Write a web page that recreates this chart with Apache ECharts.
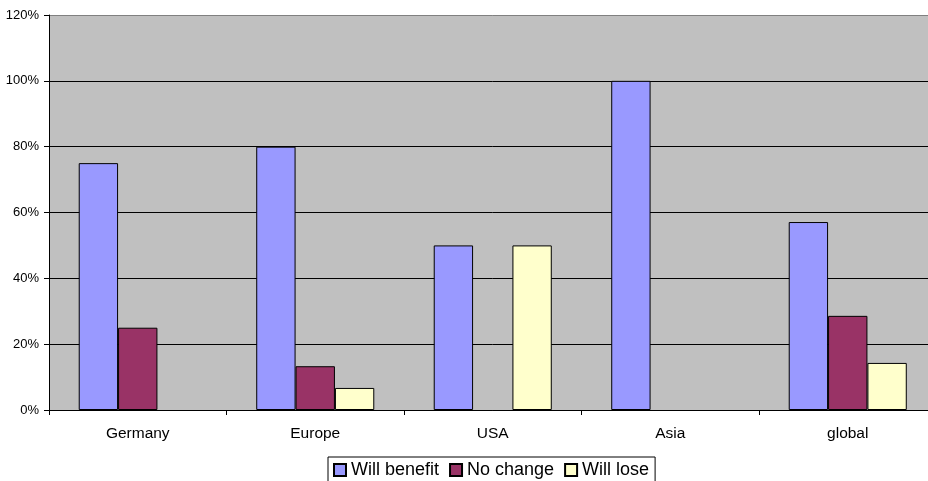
<!DOCTYPE html>
<html>
<head>
<meta charset="utf-8">
<script src="https://cdn.jsdelivr.net/npm/echarts@6/dist/echarts.min.js"></script>
<style>
html,body{margin:0;padding:0;background:#fff;overflow:hidden;width:928px;height:481px;}
#chart{width:937px;height:481px;}
</style>
</head>
<body>
<div id="chart"></div>
<script>
var categories = ['Germany', 'Europe', 'USA', 'Asia', 'global'];
var willBenefit = [75, 80, 50, 100, 57.1];
var noChange = [25, 13.3, 0, 0, 28.6];
var willLose = [0, 6.7, 50, 0, 14.3];
var seriesNames = ['Will benefit', 'No change', 'Will lose'];
var yTicks = [0, 20, 40, 60, 80, 100, 120];

var colors = ['#9999FF', '#993366', '#FFFFCC'];
var font = 'Arial, "Liberation Sans", sans-serif';
var chart = echarts.init(document.getElementById('chart'));
var datas = [willBenefit, noChange, willLose];
chart.setOption({
  animation: false,
  grid: {
    left: 49, top: 15, right: 0.5, bottom: 71,
    show: true, backgroundColor: '#C0C0C0', borderWidth: 0
  },
  legend: {
    left: 328, top: 457,
    padding: [4, 6, 10, 5],
    itemGap: 10,
    itemWidth: 12, itemHeight: 12,
    icon: 'rect',
    backgroundColor: '#fff',
    borderColor: '#000', borderWidth: 1, borderRadius: 0,
    textStyle: { fontFamily: font, fontSize: 18, color: '#000' },
    data: seriesNames
  },
  xAxis: {
    type: 'category',
    data: categories,
    axisLine: { lineStyle: { color: '#000', width: 1 } },
    axisTick: { show: true, length: 5, lineStyle: { color: '#000' } },
    axisLabel: { fontFamily: font, fontSize: 15.5, color: '#000', margin: 16 }
  },
  yAxis: {
    type: 'value',
    min: 0, max: 120, interval: 20,
    axisLine: { show: true, lineStyle: { color: '#000', width: 1 } },
    axisTick: { show: true, length: 5, lineStyle: { color: '#000' } },
    axisLabel: {
      fontFamily: font, fontSize: 13, color: '#000', margin: 10,
      formatter: function (v) { return yTicks.indexOf(v) >= 0 ? v + '%' : ''; }
    },
    splitLine: { show: true, lineStyle: { color: ['#000', '#000', '#000', '#000', '#000', '#000', '#808080'], width: 1 } }
  },
  series: seriesNames.map(function (n, i) {
    return {
      name: n,
      type: 'bar',
      data: datas[i].map(function (v) {
        return v === 0 ? { value: v, itemStyle: { borderWidth: 0, opacity: 0 } } : v;
      }),
      barGap: '0%',
      barCategoryGap: '33.5%',
      itemStyle: { color: colors[i], borderColor: '#000', borderWidth: 1 }
    };
  })
});
</script>
</body>
</html>
